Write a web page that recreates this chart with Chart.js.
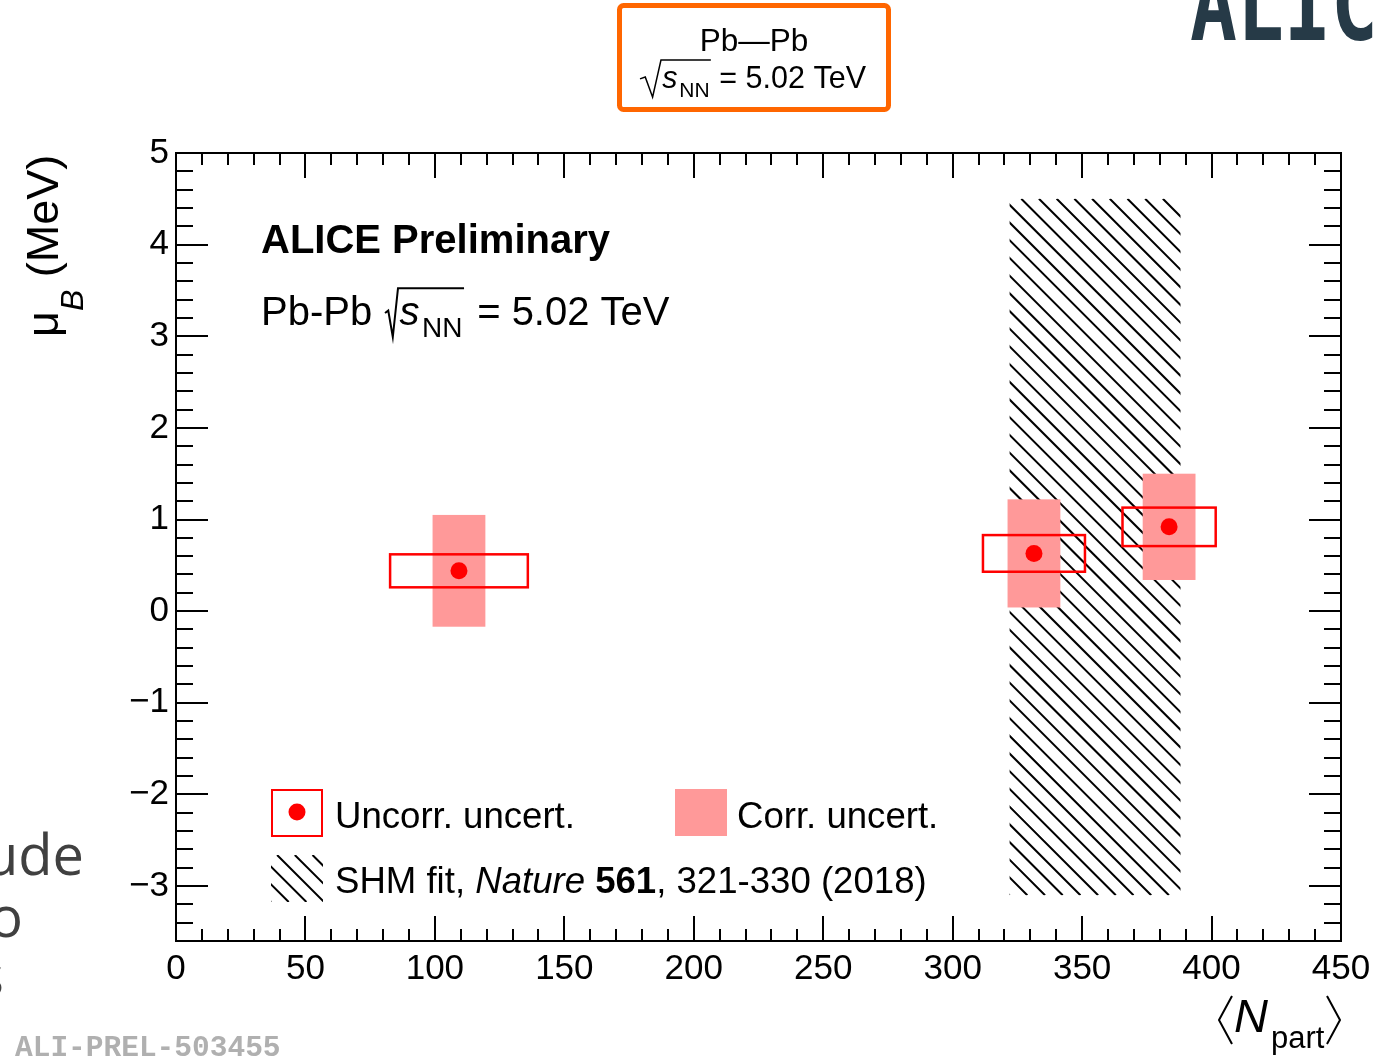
<!DOCTYPE html>
<html>
<head>
<meta charset="utf-8">
<script src="https://cdn.jsdelivr.net/npm/chart.js@4.4.0/dist/chart.umd.min.js"></script>
<style>
  html, body { margin: 0; padding: 0; background: #fff; }
  #wrap { width: 1383px; height: 1056px; position: relative; overflow: hidden; }
</style>
</head>
<body>
<div id="wrap"><canvas id="mub" width="1383" height="1056"></canvas></div>
<script>
// mu_B vs <N_part>, Pb-Pb 5.02 TeV
const nPart = [109.3, 331.4, 383.6];
const nPartErr = [26.6, 19.7, 18.0];
const muB = [0.44, 0.63, 0.92];
const muBUncorr = [0.18, 0.20, 0.21];
const muBCorr = [0.61, 0.59, 0.58];

// SHM fit band
const shmNpart = [322, 388];
const shmMuB = 0.7;
const shmErr = 3.8;

const xTickValues = [0, 50, 100, 150, 200, 250, 300, 350, 400, 450];
const yTickValues = [-3, -2, -1, 0, 1, 2, 3, 4, 5];

const FAMILY = '"Liberation Sans", Arial, Helvetica, sans-serif';
const font = (size, style) => (style ? style + ' ' : '') + size + 'px ' + FAMILY;
const CORR_HALF_WIDTH = 10.2;   // width of the correlated box along N_part
const RED = '#ff0000';
const PINK = '#ff9999';

function hatch(ctx, x0, y0, x1, y1, step) {
  ctx.save();
  ctx.beginPath();
  ctx.rect(x0, y0, x1 - x0, y1 - y0);
  ctx.clip();
  ctx.strokeStyle = '#000';
  ctx.lineWidth = 2;
  ctx.beginPath();
  const h = y1 - y0;
  for (let c = x0 - h; c < x1; c += step) {
    ctx.moveTo(c, y0);
    ctx.lineTo(c + h, y1);
  }
  ctx.stroke();
  ctx.restore();
}

// draws sqrt(s_NN) starting at x0 on baseline b, returns end x
function sqrtSNN(ctx, x0, b, size, w) {
  const top = b - 0.92 * size;
  ctx.save();
  ctx.lineWidth = size / 20;
  ctx.lineJoin = 'miter';
  ctx.beginPath();
  ctx.moveTo(x0, b - 0.3 * size);
  ctx.lineTo(x0 + 0.25 * w, b - 0.36 * size);
  ctx.lineTo(x0 + 0.6 * w, b + 0.3 * size);
  ctx.lineTo(x0 + w, top);
  let x = x0 + w + 0.04 * size;
  ctx.font = font(size, 'italic');
  ctx.fillText('s', x, b);
  x += ctx.measureText('s').width + 0.06 * size;
  ctx.font = font(Math.round(size * 0.7));
  ctx.fillText('NN', x, b + 0.3 * size);
  x += ctx.measureText('NN').width + 0.04 * size;
  ctx.lineTo(x, top);
  ctx.stroke();
  ctx.restore();
  return x;
}

function runs(ctx, x, y, parts) {
  parts.forEach(p => {
    ctx.font = p.font;
    ctx.fillText(p.t, x, y + (p.dy || 0));
    x += ctx.measureText(p.t).width;
  });
  return x;
}

const errorBoxes = {
  id: 'errorBoxes',
  beforeDatasetsDraw(chart) {
    const { ctx, chartArea: a, scales: { x, y } } = chart;
    ctx.save();
    ctx.beginPath();
    ctx.rect(a.left, a.top, a.right - a.left, a.bottom - a.top);
    ctx.clip();
    // SHM band
    hatch(ctx, x.getPixelForValue(shmNpart[0]), y.getPixelForValue(shmMuB + shmErr),
          x.getPixelForValue(shmNpart[1]), y.getPixelForValue(shmMuB - shmErr), 17.7);
    // correlated uncertainties
    ctx.fillStyle = PINK;
    nPart.forEach((n, i) => {
      const l = x.getPixelForValue(n - CORR_HALF_WIDTH), r = x.getPixelForValue(n + CORR_HALF_WIDTH);
      const t = y.getPixelForValue(muB[i] + muBCorr[i]), b = y.getPixelForValue(muB[i] - muBCorr[i]);
      ctx.fillRect(l, t, r - l, b - t);
    });
    // uncorrelated uncertainties
    ctx.strokeStyle = RED;
    ctx.lineWidth = 2.5;
    nPart.forEach((n, i) => {
      const l = x.getPixelForValue(n - nPartErr[i]), r = x.getPixelForValue(n + nPartErr[i]);
      const t = y.getPixelForValue(muB[i] + muBUncorr[i]), b = y.getPixelForValue(muB[i] - muBUncorr[i]);
      ctx.strokeRect(l, t, r - l, b - t);
    });
    ctx.restore();
  }
};

const rootFrame = {
  id: 'rootFrame',
  afterDraw(chart) {
    const { ctx, chartArea: a, scales: { x, y } } = chart;
    ctx.save();
    ctx.strokeStyle = '#000';
    ctx.lineWidth = 2;
    ctx.strokeRect(a.left, a.top, a.right - a.left, a.bottom - a.top);
    ctx.beginPath();
    for (let i = 0; i * 10 <= x.max + 1e-9; i++) {
      const px = Math.round(x.getPixelForValue(i * 10));
      const len = i % 5 === 0 ? 25 : 12;
      ctx.moveTo(px, a.bottom); ctx.lineTo(px, a.bottom - len);
      ctx.moveTo(px, a.top); ctx.lineTo(px, a.top + len);
    }
    for (let i = Math.ceil(y.min / 0.2 - 1e-6); i * 0.2 <= y.max + 1e-9; i++) {
      const py = Math.round(y.getPixelForValue(i * 0.2));
      const len = i % 5 === 0 ? 32 : 17;
      ctx.moveTo(a.left, py); ctx.lineTo(a.left + len, py);
      ctx.moveTo(a.right, py); ctx.lineTo(a.right - len, py);
    }
    ctx.stroke();

    ctx.fillStyle = '#000';
    ctx.textAlign = 'left';
    ctx.textBaseline = 'alphabetic';

    // axis titles
    ctx.save();
    ctx.translate(58, 337);
    ctx.rotate(-Math.PI / 2);
    runs(ctx, 0, 0, [
      { t: 'μ', font: font(45) },
      { t: 'B', font: font(32, 'italic'), dy: 25 },
      { t: ' (MeV)', font: font(45) }
    ]);
    ctx.restore();

    ctx.beginPath();
    ctx.moveTo(1232, 996); ctx.lineTo(1219, 1020); ctx.lineTo(1232, 1044);
    ctx.moveTo(1327, 996); ctx.lineTo(1340, 1020); ctx.lineTo(1327, 1044);
    ctx.stroke();
    runs(ctx, 1234, 1032, [{ t: 'N', font: font(47, 'italic') }]);
    runs(ctx, 1271, 1048, [{ t: 'part', font: font(31) }]);

    // labels inside the frame
    runs(ctx, 261, 253, [{ t: 'ALICE Preliminary', font: font(40, 'bold') }]);
    runs(ctx, 261, 325, [{ t: 'Pb-Pb', font: font(40) }]);
    let ex = sqrtSNN(ctx, 385, 325, 40, 13);
    runs(ctx, ex + 2, 325, [{ t: ' = 5.02 TeV', font: font(40) }]);

    // legend
    const lf = font(36.6);
    ctx.strokeStyle = RED;
    ctx.lineWidth = 2;
    ctx.strokeRect(272, 790, 50, 46);
    ctx.fillStyle = RED;
    ctx.beginPath();
    ctx.arc(297, 812, 8.5, 0, Math.PI * 2);
    ctx.fill();
    ctx.fillStyle = PINK;
    ctx.fillRect(675, 789, 52, 47);
    hatch(ctx, 271, 855, 323, 902, 17.7);
    ctx.fillStyle = '#000';
    runs(ctx, 335, 828, [{ t: 'Uncorr. uncert.', font: lf }]);
    runs(ctx, 737, 828, [{ t: 'Corr. uncert.', font: lf }]);
    runs(ctx, 335, 893, [
      { t: 'SHM fit, ', font: lf },
      { t: 'Nature', font: font(36.6, 'italic') },
      { t: ' ', font: lf },
      { t: '561', font: font(36.6, 'bold') },
      { t: ', 321-330 (2018)', font: lf }
    ]);

    // collision system box above the frame
    ctx.strokeStyle = '#ff6600';
    ctx.lineWidth = 5;
    ctx.beginPath();
    ctx.roundRect(619.5, 5.5, 269, 104, 4);
    ctx.stroke();
    ctx.fillStyle = '#000';
    ctx.strokeStyle = '#000';
    ctx.font = font(31.5);
    ctx.textAlign = 'center';
    ctx.fillText('Pb\u2014Pb', 754, 51);
    ctx.textAlign = 'left';
    const tail = ' = 5.02 TeV';
    ctx.font = font(30.5);
    const tailW = ctx.measureText(tail).width;
    ctx.font = font(30.5, 'italic');
    const sW = ctx.measureText('s').width;
    ctx.font = font(21);
    const nnW = ctx.measureText('NN').width;
    const total = 21 + sW + nnW + 0.14 * 30.5 + tailW;
    const sx = 753 - total / 2;
    ex = sqrtSNN(ctx, sx, 88, 30.5, 21);
    runs(ctx, ex, 88, [{ t: tail, font: font(30.5) }]);

    // slide remnants around the figure
    ctx.save();
    ctx.fillStyle = '#263a47';
    ctx.font = 'bold 100px "DejaVu Sans Mono", monospace';
    ctx.translate(1190, 40);
    ctx.scale(0.78, 1);
    ctx.fillText('ALICE', 0, 0);
    ctx.restore();
    ctx.fillStyle = '#404040';
    ctx.font = '56px "Open Sans", sans-serif';
    ctx.textAlign = 'right';
    ctx.fillText('ude', 84, 875);
    ctx.fillText('o', 23, 937);
    ctx.fillText('s', 4, 996);
    ctx.textAlign = 'left';
    ctx.fillStyle = '#b0b0b0';
    ctx.font = 'bold 29.5px "Liberation Mono", "Courier New", monospace';
    ctx.fillText('ALI-PREL-503455', 15, 1056);
    ctx.restore();
  }
};

new Chart(document.getElementById('mub'), {
  type: 'scatter',
  data: {
    datasets: [{
      label: 'Uncorr. uncert.',
      data: nPart.map((n, i) => ({ x: n, y: muB[i] })),
      pointRadius: 8.5,
      pointHoverRadius: 8.5,
      pointBackgroundColor: RED,
      pointBorderWidth: 0
    }]
  },
  options: {
    responsive: false,
    animation: false,
    devicePixelRatio: 1,
    events: [],
    layout: { padding: { top: 153, right: 42, left: 0, bottom: 0 } },
    plugins: { legend: { display: false }, tooltip: { enabled: false } },
    scales: {
      x: {
        type: 'linear',
        min: 0,
        max: 450,
        afterBuildTicks: s => { s.ticks = xTickValues.map(v => ({ value: v })); },
        afterFit: s => { s.height = 115; },
        grid: { display: false, drawTicks: false },
        border: { display: false },
        ticks: { color: '#000', font: { family: FAMILY, size: 35 }, padding: 7, maxRotation: 0, autoSkip: false }
      },
      y: {
        type: 'linear',
        min: -3.6,
        max: 5,
        afterBuildTicks: s => { s.ticks = yTickValues.map(v => ({ value: v })); },
        afterFit: s => { s.width = 176; },
        grid: { display: false, drawTicks: false },
        border: { display: false },
        ticks: {
          color: '#000',
          font: { family: FAMILY, size: 35 },
          padding: 7,
          autoSkip: false,
          callback: v => v < 0 ? '\u2212' + (-v) : String(v)
        }
      }
    }
  },
  plugins: [errorBoxes, rootFrame]
});
</script>
</body>
</html>
